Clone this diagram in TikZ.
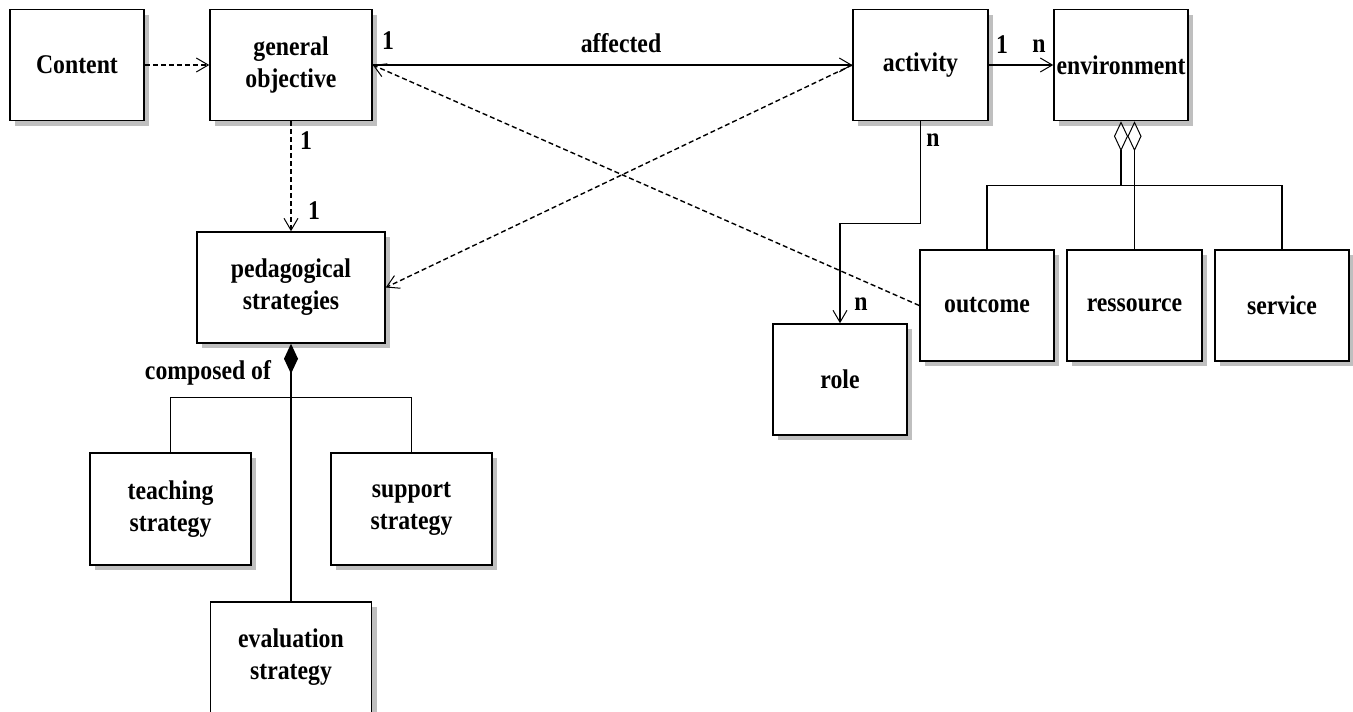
\documentclass[tikz,border=0pt]{standalone}
\usepackage{fontspec}
\setmainfont{Liberation Serif}[FakeStretch=0.88]
\usetikzlibrary{arrows.meta,shadows}

\begin{document}
\begin{tikzpicture}[x=1pt, y=-1pt,
  font=\fontsize{27}{32}\selectfont\bfseries,
  box/.style={draw, line width=1.5pt, fill=white, align=center, inner sep=0pt,
    minimum width=134pt, minimum height=111pt,
    drop shadow={shadow xshift=5pt, shadow yshift=-5pt, fill=black!25, opacity=1}},
  link/.style={line width=1.4pt},
  dep/.style={link, dash pattern=on 5pt off 3pt},
  navi/.style={-{Straight Barb[length=12pt,width=14pt,line width=1pt]}},
  comp/.style={link, {Diamond[length=30pt,width=14pt]}-},
  aggr/.style={link, {Diamond[open,length=30pt,width=14pt,line width=1pt]}-},
  lbl/.style={inner sep=0pt}]
  \useasboundingbox (0,0) rectangle (1353,712);

  % classes
  \node[box] (content) at (77,65) {Content};
  \node[box, minimum width=162pt] (genobj) at (291,65) {general\\objective};
  \node[box, minimum width=135pt] (activity) at (920.5,65) {activity};
  \node[box] (env) at (1121,65) {environment};
  \node[box, minimum width=188pt] (peda) at (291,287.5) {pedagogical\\strategies};
  \node[box, minimum width=161pt, minimum height=112pt] (teaching) at (170.5,509) {teaching\\strategy};
  \node[box, minimum width=161pt, minimum height=112pt] (support) at (411.5,509) {support\\strategy};
  \node[box, minimum width=161pt] (evaluation) at (291,657.5) {evaluation\\strategy};
  \node[box] (role) at (840,379.5) {role};
  \node[box] (outcome) at (987,305.5) {outcome};
  \node[box, minimum width=135pt] (ressource) at (1134.5,305.5) {ressource};
  \node[box] (service) at (1282,305.5) {service};
  \coordinate (envbar) at (1121,186);

  % links
  \draw[dep, navi] (content) -- (genobj);
  \draw[dep, navi] (genobj) -- (peda);
  \draw[link, navi] (genobj) -- (activity);
  \draw[dep, navi] (outcome.west) -- (genobj.east);
  \draw[dep, navi] (activity.west) -- (peda.east);
  \draw[link, navi] (activity) -- (env);
  \draw[link, navi] (activity.south) -- ++(0,102) -| (role.north);
  \draw[aggr] (env.south) -- (envbar);
  \draw[link] (outcome.north) -- ++(0,-64) -| (service.north);
  \draw[aggr] (env.south -| ressource.north) -- (ressource.north);
  \draw[comp] (peda.south) -- (evaluation.north);
  \draw[link] (teaching.north) -- ++(0,-55) -| (support.north);

  % labels
  \node[lbl] (mgo) at (388,41) {1};
  \node[lbl] (affected) at (621,43) {affected};
  \node[lbl] (mgotop) at (306,141) {1};
  \node[lbl] (mpeda) at (314,211) {1};
  \node[lbl] (mact) at (1002,45) {1};
  \node[lbl] (menv) at (1039,46) {n};
  \node[lbl] (mactrole) at (933,140) {n};
  \node[lbl] (mrole) at (861,304) {n};
  \node[lbl] (composed) at (208,373) {composed of};
\end{tikzpicture}
\end{document}
